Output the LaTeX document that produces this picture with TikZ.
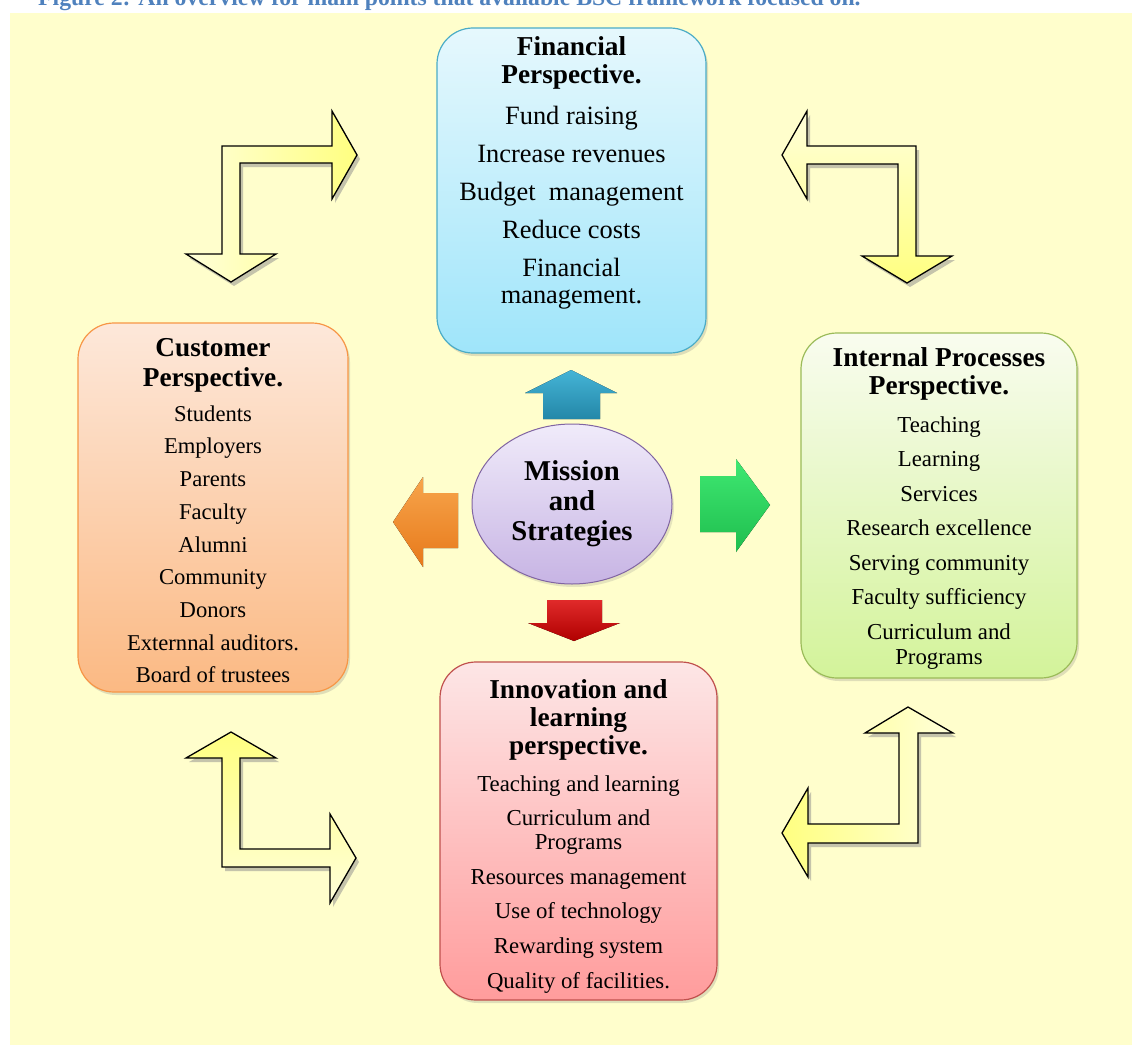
\documentclass[tikz,border=0pt]{standalone}
\usepackage{fontspec}
\setmainfont{Liberation Serif}
\usetikzlibrary{shadows,shapes.geometric}
\definecolor{bgY}{HTML}{FFFECC}
\definecolor{capblue}{HTML}{4F81BD}
\definecolor{finT}{HTML}{E6F8FD}
\definecolor{finB}{HTML}{9FE5FA}
\definecolor{finE}{HTML}{4BACC6}
\definecolor{cusT}{HTML}{FDE8DA}
\definecolor{cusB}{HTML}{FBB983}
\definecolor{cusE}{HTML}{F79646}
\definecolor{intT}{HTML}{F9FCEF}
\definecolor{intB}{HTML}{D3F39A}
\definecolor{intE}{HTML}{9BBB59}
\definecolor{innT}{HTML}{FDE6E6}
\definecolor{innB}{HTML}{FF9C9C}
\definecolor{innE}{HTML}{C0504D}
\definecolor{misT}{HTML}{F0EBFA}
\definecolor{misB}{HTML}{C7B4E4}
\definecolor{misE}{HTML}{8064A2}
\definecolor{yelL}{HTML}{FFFFDA}
\definecolor{yelD}{HTML}{FFFF80}
\definecolor{bluT}{HTML}{45B4D6}
\definecolor{bluB}{HTML}{2387A8}
\definecolor{oraT}{HTML}{F7A54C}
\definecolor{oraB}{HTML}{E7791A}
\definecolor{greT}{HTML}{3FE872}
\definecolor{greB}{HTML}{1FBE4E}
\definecolor{redT}{HTML}{E02A2A}
\definecolor{redB}{HTML}{B00000}
\newcommand{\hfont}{\bfseries\fontsize{27.3}{28}\selectfont}
\begin{document}
\begin{tikzpicture}[x=1pt,y=-1pt,
  box/.style={draw, line width=1.2pt, rounded corners=36pt, inner sep=0pt,
    drop shadow={opacity=0.25, shadow xshift=2pt, shadow yshift=-3pt}},
  txt/.style={anchor=north, text width=262pt, align=flush center, inner sep=0pt},
  bendarrow/.style={draw=black, line width=1.3pt, line join=miter},
  flatarrow/.style={line join=miter}]
\useasboundingbox (0,0) rectangle (1132,1046);
\clip (0,0) rectangle (1132,1046);
\fill[bgY] (10,13) rectangle (1132,1045);
\node[anchor=base west, inner sep=0pt, text=capblue, font=\bfseries\fontsize{23.7}{24}\selectfont] (cap) at (38,6) {Figure 2: An overview for main points that available BSC framework focused on.};

% boxes
\node[box, draw=finE, top color=finT, bottom color=finB, minimum width=269pt, minimum height=325pt] (fin) at (571.5,190.5) {};
\node[box, draw=cusE, top color=cusT, bottom color=cusB, minimum width=270pt, minimum height=369pt] (cus) at (213,507.5) {};
\node[box, draw=intE, top color=intT, bottom color=intB, minimum width=276pt, minimum height=345pt] (int) at (939,505.5) {};
\node[box, draw=innE, top color=innT, bottom color=innB, minimum width=277pt, minimum height=338pt] (inn) at (578.5,831) {};

% texts
\node[txt] (fint) at (571.5,36) {\setlength{\parskip}{11pt}{\hfont Financial\\Perspective.\par}\vspace{3pt}{\fontsize{26.4}{27}\selectfont Fund raising\par Increase revenues\par Budget\ \ management\par Reduce costs\par Financial\\management.\par}};
\node[txt] (cust) at (213,338) {\setlength{\parskip}{8.7pt}{\bfseries\fontsize{27.3}{30}\selectfont Customer\\Perspective.\par}\vspace{2.3pt}{\fontsize{22.6}{24}\selectfont Students\par Employers\par Parents\par Faculty\par Alumni\par Community\par Donors\par Externnal auditors.\par Board of trustees\par}};
\node[txt] (intt) at (939,347.5) {\setlength{\parskip}{9.5pt}{\hfont Internal Processes\\Perspective.\par}\vspace{3pt}{\fontsize{22.8}{25}\selectfont Teaching\par Learning\par Services\par Research excellence\par Serving community\par Faculty sufficiency\par Curriculum and\\Programs\par}};
\node[txt] (innt) at (578.5,679) {\setlength{\parskip}{11.2pt}{\hfont Innovation and\\learning\\perspective.\par}\vspace{2.3pt}{\fontsize{22.8}{23.5}\selectfont Teaching and learning\par Curriculum and\\Programs\par Resources management\par Use of technology\par Rewarding system\par Quality of facilities.\par}};

% centre
\node[ellipse, draw=misE, line width=1pt, top color=misT, bottom color=misB, minimum width=200pt, minimum height=160pt, inner sep=0pt, align=center, font=\bfseries\fontsize{28.7}{30}\selectfont,
  drop shadow={opacity=0.2, shadow xshift=2pt, shadow yshift=-3pt}] (mis) at (572,504) {Mission\\and\\Strategies};

% coloured arrows
\fill[flatarrow, top color=bluT, bottom color=bluB] (571,370) -- (617,393) -- (600,393) -- (600,419) -- (543,419) -- (543,393) -- (525,393) -- cycle;
\fill[flatarrow, top color=oraT, bottom color=oraB] (393,522) -- (423,477) -- (423,493) -- (458,493) -- (458,548) -- (423,548) -- (423,567) -- cycle;
\fill[flatarrow, top color=greT, bottom color=greB] (700,476) -- (736,476) -- (736,459) -- (770,505) -- (736,552) -- (736,532) -- (700,532) -- cycle;
\fill[flatarrow, top color=redT, bottom color=redB] (547,600) -- (602,600) -- (602,623) -- (620,623) -- (574,641) -- (528,623) -- (547,623) -- cycle;

% bent yellow arrows: shadows
\begin{scope}[shift={(3,4)}]
\fill[black!45, opacity=0.5] (222,146) -- (332,146) -- (332,111) -- (357,155) -- (332,199) -- (332,163) -- (240,163) -- (240,254) -- (276,254) -- (231,282) -- (186,254) -- (222,254) -- cycle;
\fill[black!45, opacity=0.5] (782,155) -- (807,111) -- (807,146) -- (916,146) -- (916,256) -- (952,256) -- (907,283) -- (862,256) -- (898,256) -- (898,164) -- (807,164) -- (807,199) -- cycle;
\fill[black!45, opacity=0.5] (231,732) -- (276,758) -- (240,758) -- (240,849) -- (330,849) -- (330,814) -- (356,858) -- (330,903) -- (330,867) -- (222,867) -- (222,758) -- (186,758) -- cycle;
\fill[black!45, opacity=0.5] (908,707) -- (953,733) -- (918,733) -- (918,843) -- (808,843) -- (808,877) -- (782,833) -- (808,788) -- (808,824) -- (899,824) -- (899,733) -- (865,733) -- cycle;
\end{scope}
% bent yellow arrows
\draw[bendarrow, left color=yelL, right color=yelD] (222,146) -- (332,146) -- (332,111) -- (357,155) -- (332,199) -- (332,163) -- (240,163) -- (240,254) -- (276,254) -- (231,282) -- (186,254) -- (222,254) -- cycle;
\draw[bendarrow, top color=yelL, bottom color=yelD] (782,155) -- (807,111) -- (807,146) -- (916,146) -- (916,256) -- (952,256) -- (907,283) -- (862,256) -- (898,256) -- (898,164) -- (807,164) -- (807,199) -- cycle;
\draw[bendarrow, top color=yelD, bottom color=yelL] (231,732) -- (276,758) -- (240,758) -- (240,849) -- (330,849) -- (330,814) -- (356,858) -- (330,903) -- (330,867) -- (222,867) -- (222,758) -- (186,758) -- cycle;
\draw[bendarrow, left color=yelD, right color=yelL] (908,707) -- (953,733) -- (918,733) -- (918,843) -- (808,843) -- (808,877) -- (782,833) -- (808,788) -- (808,824) -- (899,824) -- (899,733) -- (865,733) -- cycle;
\end{tikzpicture}
\end{document}
